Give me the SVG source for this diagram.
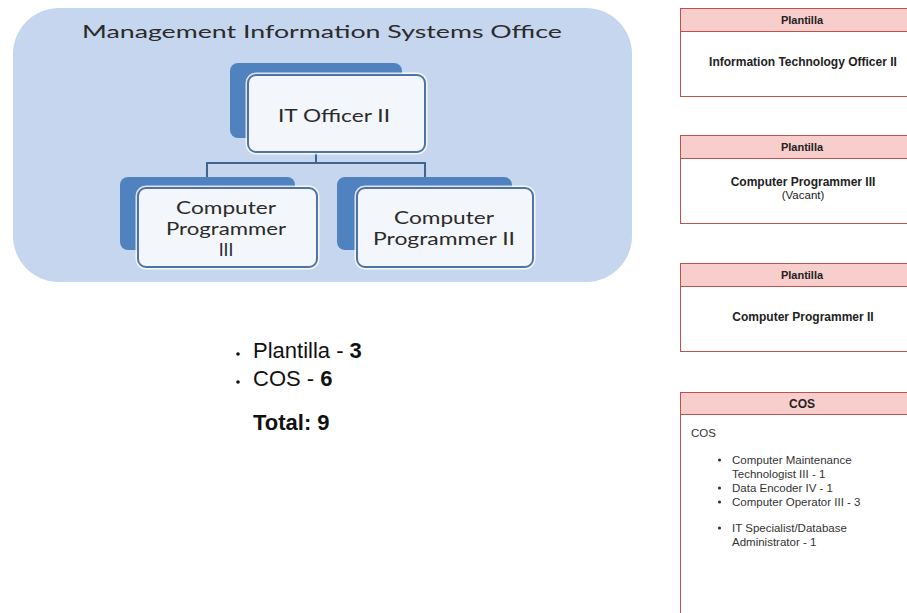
<svg xmlns="http://www.w3.org/2000/svg" width="907" height="613" viewBox="0 0 907 613">
<style>
.bg{fill:#c5d6ee}
.back{fill:#5082c0}
.front{fill:#f3f6fb;stroke:#4f73a2;stroke-width:2}
.halo{fill:none;stroke:#ffffff;stroke-width:5;opacity:0.8}
.org{font-family:Lato,"Open Sans",sans-serif;font-size:17.5px;fill:#2b2b2b;text-anchor:middle}
.conn{fill:none;stroke:#3f6490;stroke-width:2}
.hdr{fill:#f8cecc;stroke:#b85450;stroke-width:1}
.body{fill:#ffffff;stroke:#b85450;stroke-width:1}
.ht{font-family:"Liberation Sans",Arial,sans-serif;font-size:11px;font-weight:bold;fill:#222;text-anchor:middle}
.bt{font-family:"Liberation Sans",Arial,sans-serif;font-size:12px;font-weight:bold;fill:#222;text-anchor:middle}
.nt{font-family:"Liberation Sans",Arial,sans-serif;font-size:11.5px;fill:#222;text-anchor:middle}
.lt{font-family:"Liberation Sans",Arial,sans-serif;font-size:11.5px;fill:#333}
.big{font-family:"Liberation Sans",Arial,sans-serif;font-size:22px;fill:#111}
</style>
<rect class="bg" x="13" y="8" width="619" height="274" rx="46" ry="46"/>
<text x="322" y="38" class="org" font-size="20" textLength="480" lengthAdjust="spacingAndGlyphs">Management Information Systems Office</text>

<g id="connectors">
<path class="conn" d="M316 152 V163 M207 177 V163 H425 V177"/>
</g>

<g id="it-officer">
<rect class="back" x="230" y="63" width="172" height="75" rx="8"/>
<rect class="halo" x="248" y="75" width="177" height="77" rx="8"/>
<rect class="front" x="248" y="75" width="177" height="77" rx="8"/>
<text x="334" y="122" class="org" font-size="19" textLength="112" lengthAdjust="spacingAndGlyphs">IT Officer II</text>
</g>

<g id="cp3">
<rect class="back" x="120" y="177" width="175" height="73" rx="8"/>
<rect class="halo" x="138" y="188" width="179" height="79" rx="8"/>
<rect class="front" x="138" y="188" width="179" height="79" rx="8"/>
<text x="226" y="214" class="org" textLength="100" lengthAdjust="spacingAndGlyphs">Computer</text>
<text x="226" y="235.2" class="org" textLength="120" lengthAdjust="spacingAndGlyphs">Programmer</text>
<text x="226" y="256.4" class="org">III</text>
</g>

<g id="cp2">
<rect class="back" x="337" y="177" width="175" height="73" rx="8"/>
<rect class="halo" x="357" y="188" width="176" height="79" rx="8"/>
<rect class="front" x="357" y="188" width="176" height="79" rx="8"/>
<text x="444" y="223.5" class="org" textLength="100" lengthAdjust="spacingAndGlyphs">Computer</text>
<text x="444" y="244.7" class="org" textLength="142" lengthAdjust="spacingAndGlyphs">Programmer II</text>
</g>

<g id="summary">
<circle cx="238" cy="354" r="1.8" fill="#111"/>
<text x="253" y="358" class="big">Plantilla - <tspan font-weight="bold">3</tspan></text>
<circle cx="238" cy="382" r="1.8" fill="#111"/>
<text x="253" y="386" class="big">COS - <tspan font-weight="bold">6</tspan></text>
<text x="253" y="430" class="big" font-weight="bold">Total: 9</text>
</g>

<g id="plantilla-1">
<rect class="body" x="680.5" y="8.5" width="240" height="88"/>
<rect class="hdr" x="680.5" y="8.5" width="240" height="23"/>
<text x="802" y="24" class="ht">Plantilla</text>
<text x="803" y="66" class="bt">Information Technology Officer II</text>
</g>

<g id="plantilla-2">
<rect class="body" x="680.5" y="135.5" width="240" height="88"/>
<rect class="hdr" x="680.5" y="135.5" width="240" height="23"/>
<text x="802" y="151" class="ht">Plantilla</text>
<text x="803" y="186" class="bt">Computer Programmer III</text>
<text x="803" y="199" class="nt">(Vacant)</text>
</g>

<g id="plantilla-3">
<rect class="body" x="680.5" y="263.5" width="240" height="88"/>
<rect class="hdr" x="680.5" y="263.5" width="240" height="23"/>
<text x="802" y="279" class="ht">Plantilla</text>
<text x="803" y="321" class="bt">Computer Programmer II</text>
</g>

<g id="cos">
<rect class="body" x="680.5" y="392.5" width="240" height="240"/>
<rect class="hdr" x="680.5" y="392.5" width="240" height="22"/>
<text x="802" y="408" class="ht" style="font-size:12px">COS</text>
<text x="691" y="437" class="lt">COS</text>
<circle cx="719.5" cy="460" r="1.6" fill="#333"/>
<text x="732" y="464" class="lt">Computer Maintenance</text>
<text x="732" y="478" class="lt">Technologist III - 1</text>
<circle cx="719.5" cy="488" r="1.6" fill="#333"/>
<text x="732" y="492" class="lt">Data Encoder IV - 1</text>
<circle cx="719.5" cy="502" r="1.6" fill="#333"/>
<text x="732" y="506" class="lt">Computer Operator III - 3</text>
<circle cx="719.5" cy="528" r="1.6" fill="#333"/>
<text x="732" y="532" class="lt">IT Specialist/Database</text>
<text x="732" y="546" class="lt">Administrator - 1</text>
</g>
</svg>
